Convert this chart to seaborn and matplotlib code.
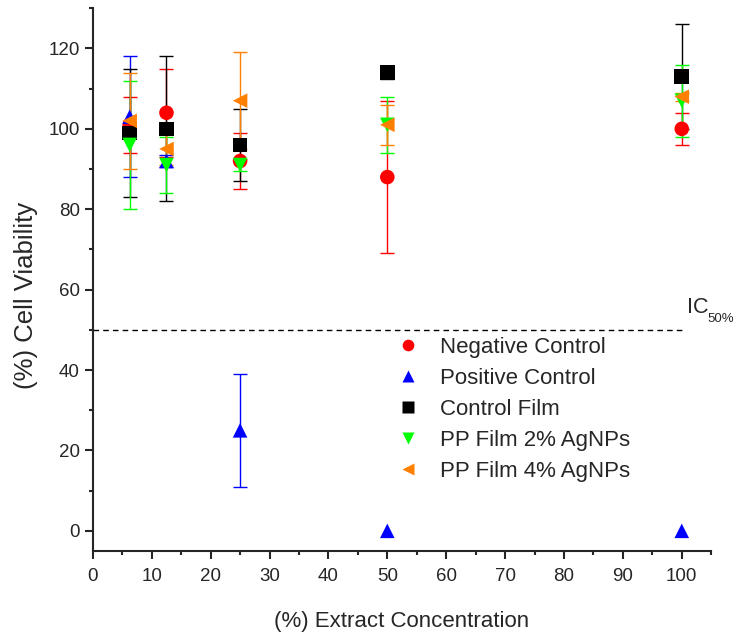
import numpy as np
import pandas as pd
import matplotlib
matplotlib.use("Agg")
import matplotlib.pyplot as plt
import seaborn as sns
from matplotlib.ticker import MultipleLocator

# data
conc = [6.25, 12.5, 25, 50, 100]
series = ["Negative Control", "Positive Control", "Control Film",
          "PP Film 2% AgNPs", "PP Film 4% AgNPs"]
neg_mean = [101, 104, 92, 88, 100]
neg_err = [7, 11, 7, 19, 4]
pos_mean = [103, 92, 25, 0, 0]
pos_err = [15, 1.5, 14, np.nan, np.nan]
film_mean = [99, 100, 96, 114, 113]
film_err = [16, 18, 9, 1.5, 13]
pp2_mean = [96, 91, 91, 101, 107]
pp2_err = [16, 7, 1.5, 7, 9]
pp4_mean = [102, 95, 107, 101, 108]
pp4_err = [12, 4, 12, 5, 1]

means = [neg_mean, pos_mean, film_mean, pp2_mean, pp4_mean]
errs = [neg_err, pos_err, film_err, pp2_err, pp4_err]
colors = ["#FF0000", "#0000FF", "#000000", "#00FF00", "#FF8000"]
markers = ["o", "^", "s", "v", "<"]

rows = []
for name, m, e in zip(series, means, errs):
    for x, y, s in zip(conc, m, e):
        rows.append({"conc": x, "viab": y, "err": s, "group": name})
df = pd.DataFrame(rows)

sns.set_style("ticks")
plt.rcParams["font.family"] = ["Liberation Sans", "DejaVu Sans"]

fig = plt.figure(figsize=(7.37, 6.34), dpi=100)
ax = fig.add_axes([0.126, 0.131, 0.839, 0.856])

for name, c in zip(series, colors):
    d = df[(df["group"] == name) & df["err"].notna()]
    ax.errorbar(d["conc"], d["viab"], yerr=d["err"], fmt="none",
                ecolor=c, elinewidth=1, capsize=5, capthick=1, zorder=2)

sns.scatterplot(data=df, x="conc", y="viab", hue="group", style="group",
                palette=dict(zip(series, colors)),
                markers=dict(zip(series, markers)),
                s=110, edgecolor="none", ax=ax, zorder=3)

# IC50 threshold
ax.plot([0, 100.5], [50, 50], ls="--", color="black", lw=1, dashes=(4, 3))
ax.text(100.85, 54.2, "IC", fontsize=15.5, va="baseline", ha="left")
ax.text(104.3, 52, "50%", fontsize=9.5, va="baseline", ha="left")

ax.set_xlim(0, 105)
ax.set_ylim(-5, 130)
ax.xaxis.set_major_locator(MultipleLocator(10))
ax.xaxis.set_minor_locator(MultipleLocator(5))
ax.yaxis.set_major_locator(MultipleLocator(20))
ax.yaxis.set_minor_locator(MultipleLocator(10))
ax.tick_params(which="major", length=6, width=1.5, labelsize=13.5, direction="out")
ax.tick_params(axis="x", which="major", pad=6)
ax.tick_params(which="minor", length=3, width=1.5, direction="out")
for sp in ["top", "right"]:
    ax.spines[sp].set_visible(False)
for sp in ["left", "bottom"]:
    ax.spines[sp].set_linewidth(1.5)

ax.set_xlabel("(%) Extract Concentration", fontsize=16, labelpad=19)
ax.set_ylabel("(%) Cell Viability", fontsize=18.5)
ax.yaxis.set_label_coords(-0.088, 0.47)

ax.legend(loc="upper left", bbox_to_anchor=(0.474, 0.394), frameon=False,
          fontsize=16, borderpad=0, borderaxespad=0, handlelength=2,
          handletextpad=0.45, labelspacing=0.45, markerscale=0.8)

fig.savefig("out.png", dpi=100)
